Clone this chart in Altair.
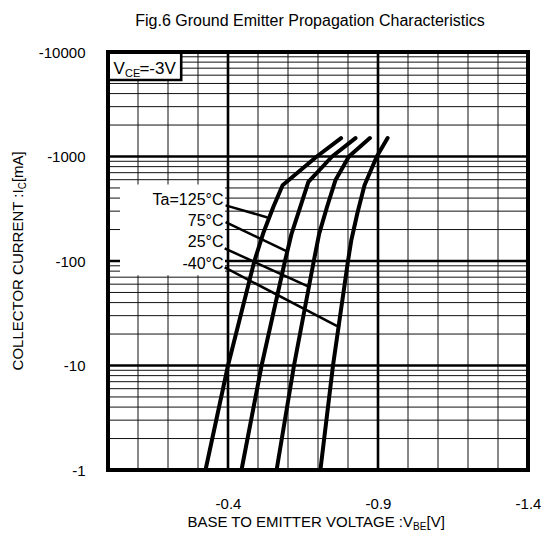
import altair as alt
import pandas as pd

FONT = "Liberation Sans"

# ---- curve data: V_BE [V], I_C [mA] ----
series = ["125", "75", "25", "-40"]
vbe_125 = [-0.325, -0.400, -0.488, -0.517, -0.551, -0.582, -0.696, -0.777]
ic_125 = [-1, -10, -100, -183, -329, -531, -1000, -1500]
vbe_75 = [-0.445, -0.512, -0.590, -0.612, -0.641, -0.668, -0.747, -0.825]
ic_75 = [-1, -10, -100, -183, -329, -571, -1000, -1500]
vbe_25 = [-0.562, -0.620, -0.686, -0.704, -0.730, -0.758, -0.803, -0.873]
ic_25 = [-1, -10, -100, -183, -329, -592, -1000, -1500]
vbe_m40 = [-0.708, -0.750, -0.800, -0.811, -0.831, -0.855, -0.896, -0.932]
ic_m40 = [-1, -10, -100, -158, -285, -531, -1000, -1500]

# ---- temperature labels and leader lines ----
label_text = ["Ta=125°C", "75°C", "25°C", "-40°C"]
label_v = [-0.385, -0.385, -0.385, -0.385]
label_i = [-383, -239, -152, -94]
lead_v1 = [-0.392, -0.392, -0.389, -0.389]
lead_i1 = [-341, -235, -132, -86.7]
lead_v2 = [-0.532, -0.593, -0.665, -0.764]
lead_i2 = [-261, -125, -57.4, -23.8]

# ---- axes / grid ----
x_ticks = [-0.4, -0.9, -1.4]
y_ticks = [-1, -10, -100, -1000, -10000]
x_minor = [-0.1, -0.2, -0.3, -0.5, -0.6, -0.7, -0.8, -1.0, -1.1, -1.2, -1.3]
x_major = [-0.4, -0.9]
y_decades = [-1, -10, -100, -1000]
y_mult = [2, 3, 4, 5, 6, 7, 8, 9]
y_major = [-10, -100, -1000]
x_range = [0.0, -1.4]
y_range = [-1, -10000]

title_text = ["Fig.6 Ground Emitter Propagation Characteristics"]
xtitle_parts = ["BASE TO EMITTER VOLTAGE :V", "BE", "[V]"]
ytitle_parts = ["COLLECTOR CURRENT :I", "C", "[mA]"]
vce_parts = ["V", "CE", "=-3V"]
vce_box_v = [0.0, -0.244]
vce_box_i = [-10000, -5400]
label_bg_v = [-0.04, -0.39]
label_bg_i = [-73, -540]

# ---- tables ----
rows = []
for s, vs, cs in zip(series, [vbe_125, vbe_75, vbe_25, vbe_m40], [ic_125, ic_75, ic_25, ic_m40]):
    for v, c in zip(vs, cs):
        rows.append({"series": s, "x": -v, "y": -c})
curves = pd.DataFrame(rows)

labels = pd.DataFrame({"t": label_text, "x": [-v for v in label_v], "y": [-c for c in label_i]})
leads = pd.DataFrame({
    "x": [-v for v in lead_v1], "y": [-c for c in lead_i1],
    "x2": [-v for v in lead_v2], "y2": [-c for c in lead_i2],
})
xminor_df = pd.DataFrame({"x": [-v for v in x_minor]})
xmajor_df = pd.DataFrame({"x": [-v for v in x_major]})
yminor_df = pd.DataFrame({"y": [-d * m for d in y_decades for m in y_mult]})
ymajor_df = pd.DataFrame({"y": [-c for c in y_major]})
border_df = pd.DataFrame({"x": [-x_range[0]], "x2": [-x_range[1]], "y": [-y_range[0]], "y2": [-y_range[1]]})
vcebox_df = pd.DataFrame({"x": [-vce_box_v[0]], "x2": [-vce_box_v[1]], "y": [-vce_box_i[1]], "y2": [-vce_box_i[0]]})
labelbg_df = pd.DataFrame({"x": [-label_bg_v[0]], "x2": [-label_bg_v[1]], "y": [-label_bg_i[0]], "y2": [-label_bg_i[1]]})

xs = alt.Scale(domain=[-x_range[0], -x_range[1]], nice=False, zero=False)
ys = alt.Scale(type="log", domain=[-y_range[0], -y_range[1]], nice=False)

xaxis = alt.Axis(values=[-v for v in x_ticks], labelExpr="'-' + format(datum.value, '.1f')",
                 grid=False, ticks=False, domain=False, labelPadding=26, labelFontSize=15,
                 labelFont=FONT, labelColor="black", title=None, labelFlush=False,
                 labelOverlap=False)
yaxis = alt.Axis(values=[-c for c in y_ticks], labelExpr="'-' + format(datum.value, 'd')",
                 grid=False, ticks=False, domain=False, labelPadding=23, labelFontSize=15,
                 labelFont=FONT, labelColor="black", title=None, labelOverlap=False,
                 labelFlush=False)


def X(f="x"):
    return alt.X(f"{f}:Q", scale=xs, axis=xaxis)


def Y(f="y"):
    return alt.Y(f"{f}:Q", scale=ys, axis=yaxis)


minor_v = alt.Chart(xminor_df).mark_rule(color="#111", strokeWidth=1).encode(x=X())
minor_h = alt.Chart(yminor_df).mark_rule(color="#111", strokeWidth=1).encode(y=Y())
major_v = alt.Chart(xmajor_df).mark_rule(color="black", strokeWidth=2.6).encode(x=X())
major_h = alt.Chart(ymajor_df).mark_rule(color="black", strokeWidth=2.6).encode(y=Y())

label_bg = alt.Chart(labelbg_df).mark_rect(color="white").encode(
    x=X(), x2="x2:Q", y=Y(), y2="y2:Q")
vce_box = alt.Chart(vcebox_df).mark_rect(fill="white", stroke="black", strokeWidth=2.6).encode(
    x=X(), x2="x2:Q", y=Y(), y2="y2:Q")

lines = alt.Chart(curves).mark_line(color="black", strokeWidth=4, strokeCap="round",
                                    strokeJoin="round").encode(
    x=X(), y=Y(), detail="series:N")

lead = alt.Chart(leads).mark_rule(color="black", strokeWidth=2.5).encode(
    x=X(), x2="x2:Q", y=Y(), y2="y2:Q")

label_txt = alt.Chart(labels).mark_text(align="right", baseline="middle", font=FONT,
                                        fontSize=16, color="black").encode(
    x=X(), y=Y(), text="t:N")

vce_df = pd.DataFrame({"t": vce_parts, "x": [0.018] * 3, "y": [6120] * 3})
vce_v = alt.Chart(vce_df.iloc[[0]]).mark_text(align="left", baseline="alphabetic", font=FONT,
                                              fontSize=17, color="black").encode(
    x=X(), y=Y(), text="t:N")
vce_ce = alt.Chart(vce_df.iloc[[1]]).mark_text(align="left", baseline="alphabetic", font=FONT,
                                               fontSize=11, color="black", dx=11.7, dy=3).encode(
    x=X(), y=Y(), text="t:N")
vce_eq = alt.Chart(vce_df.iloc[[2]]).mark_text(align="left", baseline="alphabetic", font=FONT,
                                               fontSize=17, color="black", dx=26).encode(
    x=X(), y=Y(), text="t:N")

border = alt.Chart(border_df).mark_rect(fillOpacity=0, stroke="black", strokeWidth=4).encode(
    x=X(), x2="x2:Q", y=Y(), y2="y2:Q")

# ---- titles (text outside the plot) ----
title = alt.Chart(pd.DataFrame({"t": title_text})).mark_text(
    align="center", baseline="alphabetic", font=FONT, fontSize=16, color="black").encode(
    text="t:N", x=alt.value(202), y=alt.value(-25.7))

XT, XY = 305, 475
xt1 = alt.Chart(pd.DataFrame({"t": [xtitle_parts[0]]})).mark_text(
    align="right", baseline="alphabetic", font=FONT, fontSize=15, color="black").encode(
    text="t:N", x=alt.value(XT), y=alt.value(XY))
xt2 = alt.Chart(pd.DataFrame({"t": [xtitle_parts[1]]})).mark_text(
    align="left", baseline="alphabetic", font=FONT, fontSize=10, color="black", dy=3).encode(
    text="t:N", x=alt.value(XT), y=alt.value(XY))
xt3 = alt.Chart(pd.DataFrame({"t": [xtitle_parts[2]]})).mark_text(
    align="left", baseline="alphabetic", font=FONT, fontSize=15, color="black", dx=13.5).encode(
    text="t:N", x=alt.value(XT), y=alt.value(XY))

YX, YY = -84.6, 137.3
yt1 = alt.Chart(pd.DataFrame({"t": [ytitle_parts[0]]})).mark_text(
    align="right", baseline="alphabetic", font=FONT, fontSize=15, color="black", angle=270).encode(
    text="t:N", x=alt.value(YX), y=alt.value(YY))
yt2 = alt.Chart(pd.DataFrame({"t": [ytitle_parts[1]]})).mark_text(
    align="left", baseline="alphabetic", font=FONT, fontSize=10, color="black", angle=270,
    dy=3).encode(text="t:N", x=alt.value(YX), y=alt.value(YY))
yt3 = alt.Chart(pd.DataFrame({"t": [ytitle_parts[2]]})).mark_text(
    align="left", baseline="alphabetic", font=FONT, fontSize=15, color="black", angle=270,
    dx=7.2).encode(text="t:N", x=alt.value(YX), y=alt.value(YY))

chart = alt.layer(
    minor_v, minor_h, major_v, major_h, label_bg, vce_box, lines, lead, label_txt,
    vce_v, vce_ce, vce_eq, border, title, xt1, xt2, xt3, yt1, yt2, yt3,
).properties(
    width=420, height=418,
    padding={"left": 100, "top": 44, "right": 13, "bottom": 62},
    autosize=alt.AutoSizeParams(type="none"),
    background="white",
).configure_view(strokeWidth=0)

chart.save("out.html", embed_options={"renderer": "svg", "actions": False})
